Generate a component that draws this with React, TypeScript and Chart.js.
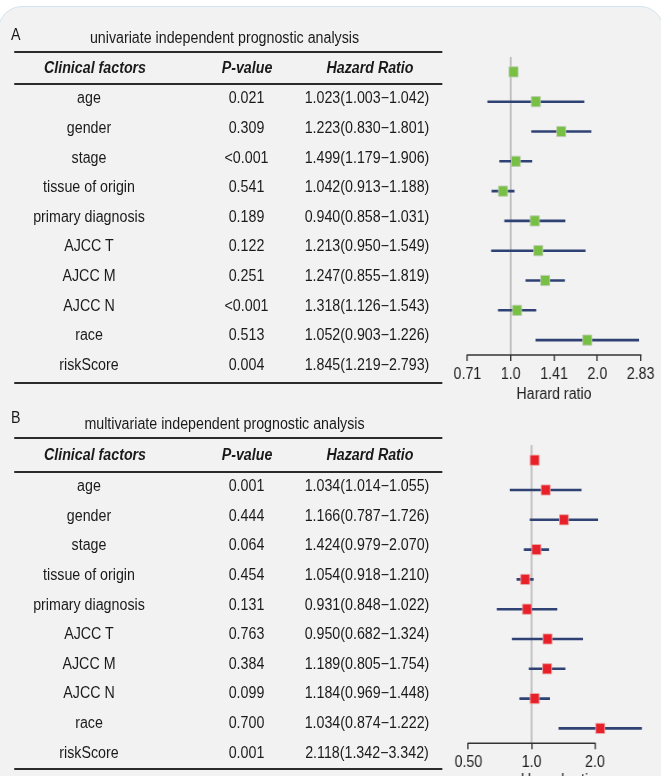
import React, { useEffect, useRef } from "react";
import { Chart, registerables } from "chart.js";

Chart.register(...registerables);

// ---------- data ----------
const factors = [
  "age",
  "gender",
  "stage",
  "tissue of origin",
  "primary diagnosis",
  "AJCC T",
  "AJCC M",
  "AJCC N",
  "race",
  "riskScore",
];

const uniP = ["0.021", "0.309", "<0.001", "0.541", "0.189", "0.122", "0.251", "<0.001", "0.513", "0.004"];
const uniHR = [1.023, 1.223, 1.499, 1.042, 0.94, 1.213, 1.247, 1.318, 1.052, 1.845];
const uniLow = [1.003, 0.83, 1.179, 0.913, 0.858, 0.95, 0.855, 1.126, 0.903, 1.219];
const uniHigh = [1.042, 1.801, 1.906, 1.188, 1.031, 1.549, 1.819, 1.543, 1.226, 2.793];

const multiP = ["0.001", "0.444", "0.064", "0.454", "0.131", "0.763", "0.384", "0.099", "0.700", "0.001"];
const multiHR = [1.034, 1.166, 1.424, 1.054, 0.931, 0.95, 1.189, 1.184, 1.034, 2.118];
const multiLow = [1.014, 0.787, 0.979, 0.918, 0.848, 0.682, 0.805, 0.969, 0.874, 1.342];
const multiHigh = [1.055, 1.726, 2.07, 1.21, 1.022, 1.324, 1.754, 1.448, 1.222, 3.342];

const uniTickValues = [0.7071, 1, 1.4142, 2, 2.8284];
const uniTickLabels = ["0.71", "1.0", "1.41", "2.0", "2.83"];
const multiTickValues = [0.5, 1, 2];
const multiTickLabels = ["0.50", "1.0", "2.0"];

const headers = ["Clinical factors", "P-value", "Hazard Ratio"];
const axisTitle = "Harard ratio";

// ---------- styling ----------
const S = 0.89; // horizontal condensation of the whole figure
const sx = (x: number) => x / S;
const FONT = '"Liberation Sans", Arial, Helvetica, sans-serif';
const TEXT = "#1a1a1a";
const NAVY = "#2f4273";
const RULE = "#2b2b2b";

const fmt = (v: number) => v.toFixed(3);

function Txt(props: {
  x: number;
  y: number;
  text: string;
  bold?: boolean;
  italic?: boolean;
  left?: boolean;
  size?: number;
}) {
  const { x, y, text, bold, italic, left, size = 16 } = props;
  const w = 600;
  return (
    <div
      style={{
        position: "absolute",
        left: left ? sx(x) : sx(x) - w / 2,
        top: y - 10,
        width: w,
        height: 20,
        lineHeight: "20px",
        fontSize: size,
        fontFamily: FONT,
        fontWeight: bold ? 700 : 400,
        fontStyle: italic ? "italic" : "normal",
        color: TEXT,
        textAlign: left ? "left" : "center",
        whiteSpace: "nowrap",
      }}
    >
      {text}
    </div>
  );
}

function Rule(props: { y: number; x0: number; x1: number }) {
  return (
    <div
      style={{
        position: "absolute",
        left: sx(props.x0),
        width: sx(props.x1) - sx(props.x0),
        top: props.y - 1,
        height: 2,
        background: RULE,
      }}
    />
  );
}

function Table(props: {
  letter: string;
  title: string;
  letterY: number;
  titleY: number;
  topRule: number;
  headerY: number;
  headerRule: number;
  rowStart: number;
  rowStep: number;
  bottomRule: number;
  pvals: string[];
  hr: number[];
  low: number[];
  high: number[];
}) {
  const p = props;
  const c1 = 89,
    c2 = 246.5,
    c3 = 367;
  return (
    <>
      <Txt x={11} y={p.letterY} text={p.letter} left />
      <Txt x={224.5} y={p.titleY} text={p.title} />
      <Rule y={p.topRule} x0={14} x1={442} />
      <Txt x={95} y={p.headerY} text={headers[0]} bold italic />
      <Txt x={247} y={p.headerY} text={headers[1]} bold italic />
      <Txt x={370} y={p.headerY} text={headers[2]} bold italic />
      <Rule y={p.headerRule} x0={14} x1={442} />
      {factors.map((f, i) => {
        const y = p.rowStart + i * p.rowStep;
        return (
          <React.Fragment key={f}>
            <Txt x={c1} y={y} text={f} />
            <Txt x={c2} y={y} text={p.pvals[i]} />
            <Txt x={c3} y={y} text={`${fmt(p.hr[i])}(${fmt(p.low[i])}\u2212${fmt(p.high[i])})`} />
          </React.Fragment>
        );
      })}
      <Rule y={p.bottomRule} x0={14} x1={442} />
    </>
  );
}

const axisLinePlugin = {
  id: "axisLine",
  afterDraw(chart: any) {
    const xs = chart.scales.x;
    const t = xs.ticks;
    if (!t || !t.length) return;
    const x0 = xs.getPixelForValue(t[0].value);
    const x1 = xs.getPixelForValue(t[t.length - 1].value);
    const y = chart.chartArea.bottom;
    const ctx = chart.ctx;
    ctx.save();
    ctx.strokeStyle = "#333";
    ctx.lineWidth = 1.5;
    ctx.beginPath();
    ctx.moveTo(x0 - 0.75, y);
    ctx.lineTo(x1 + 0.75, y);
    ctx.stroke();
    ctx.restore();
  },
};

function Forest(props: {
  refLeft: number; // reference px (left of canvas)
  top: number;
  height: number;
  areaLeft: number; // reference px
  areaRight: number; // reference px
  areaTop: number;
  areaBottom: number;
  titleCenter: number;
  xMin: number;
  xMax: number;
  hr: number[];
  low: number[];
  high: number[];
  fill: string;
  edge: string;
  tickValues: number[];
  tickLabels: string[];
}) {
  const ref = useRef<HTMLCanvasElement>(null);
  const p = props;
  const cw = Math.round(sx(661 - p.refLeft)) + 2;
  const padL = sx(p.areaLeft - p.refLeft);
  const padR = cw - sx(p.areaRight - p.refLeft);
  const padT = p.areaTop - p.top;
  const scaleH = p.top + p.height - p.areaBottom;
  const titlePadB = p.top + p.height - p.titleCenter - 9.6;
  const yMin = -0.51;
  const yMax = 9.5;

  useEffect(() => {
    const datasets: any[] = [
      {
        label: "HR",
        data: p.hr.map((v, i) => ({ x: v, y: i })),
        pointStyle: "rect",
        pointRadius: 7.2,
        pointHoverRadius: 7.2,
        backgroundColor: p.fill,
        borderColor: p.edge,
        borderWidth: 1,
        showLine: false,
      },
      ...p.low.map((l, i) => ({
        label: "CI " + factors[i],
        data: [
          { x: l, y: i },
          { x: p.high[i], y: i },
        ],
        showLine: true,
        borderColor: NAVY,
        borderWidth: 2.6,
        pointRadius: 0,
        pointHoverRadius: 0,
        fill: false,
      })),
      {
        label: "ref",
        data: [
          { x: 1, y: yMin },
          { x: 1, y: yMax },
        ],
        showLine: true,
        borderColor: "#bdbdbd",
        borderWidth: 2,
        pointRadius: 0,
        pointHoverRadius: 0,
        fill: false,
      },
    ];
    const chart = new Chart(ref.current as HTMLCanvasElement, {
      type: "scatter",
      data: { datasets },
      options: {
        animation: false,
        responsive: false,
        maintainAspectRatio: false,
        devicePixelRatio: 1,
        events: [],
        layout: { padding: { left: padL, right: padR, top: padT, bottom: 0 } },
        plugins: { legend: { display: false }, tooltip: { enabled: false } },
        scales: {
          x: {
            type: "logarithmic",
            position: "bottom",
            min: p.xMin,
            max: p.xMax,
            bounds: "data",
            afterBuildTicks: (s: any) => {
              s.ticks = p.tickValues.map((v) => ({ value: v }));
            },
            afterFit: (s: any) => {
              s.height = scaleH;
            },
            ticks: {
              autoSkip: false,
              maxRotation: 0,
              minRotation: 0,
              padding: 4,
              color: "#222",
              font: { family: FONT, size: 16 },
              callback: (_v: any, i: number) => p.tickLabels[i],
            },
            grid: {
              display: true,
              drawOnChartArea: false,
              drawTicks: true,
              tickLength: 6,
              color: "#333",
              lineWidth: 1.5,
            },
            border: { display: false },
            title: {
              display: true,
              text: axisTitle,
              color: "#222",
              font: { family: FONT, size: 16 },
              padding: { top: 0, bottom: titlePadB },
            },
          },
          y: { type: "linear", min: yMin, max: yMax, reverse: true, display: false },
        },
      } as any,
      plugins: [axisLinePlugin],
    });
    return () => chart.destroy();
  }, []);

  return (
    <canvas
      ref={ref}
      width={cw}
      height={p.height}
      style={{ position: "absolute", left: sx(p.refLeft), top: p.top, width: cw, height: p.height }}
    />
  );
}

export default function App() {
  const bLeft = 468.7;
  const bRight = bLeft + 63.3 * Math.log2(3.6 / 0.5);
  return (
    <div
      style={{
        position: "absolute",
        left: 0,
        top: 0,
        width: 661,
        height: 776,
        overflow: "hidden",
        background: "#ffffff",
      }}
    >
      <div
        style={{
          position: "absolute",
          left: -2,
          top: 6,
          width: 666,
          height: 820,
          boxSizing: "border-box",
          border: "1.5px solid #d3e4ef",
          borderRadius: 24,
          background: "#f2f2f2",
        }}
      />
      <div
        style={{
          position: "absolute",
          left: 0,
          top: 0,
          width: sx(661),
          height: 776,
          transform: `scaleX(${S})`,
          transformOrigin: "0 0",
        }}
      >
        <Table
          letter="A"
          title="univariate independent prognostic analysis"
          letterY={35}
          titleY={38}
          topRule={52}
          headerY={67.5}
          headerRule={83.5}
          rowStart={98.3}
          rowStep={29.63}
          bottomRule={383}
          pvals={uniP}
          hr={uniHR}
          low={uniLow}
          high={uniHigh}
        />
        <Table
          letter="B"
          title="multivariate independent prognostic analysis"
          letterY={418}
          titleY={423.5}
          topRule={438.3}
          headerY={455}
          headerRule={472}
          rowStart={486}
          rowStep={29.63}
          bottomRule={768.5}
          pvals={multiP}
          hr={multiHR}
          low={multiLow}
          high={multiHigh}
        />
        <Forest
          refLeft={440}
          top={40}
          height={376}
          areaLeft={467.7}
          areaRight={641}
          areaTop={56.7}
          areaBottom={355}
          titleCenter={395}
          xMin={0.7071}
          xMax={2.8284}
          hr={uniHR}
          low={uniLow}
          high={uniHigh}
          fill="#78c043"
          edge="rgba(190,205,180,0.9)"
          tickValues={uniTickValues}
          tickLabels={uniTickLabels}
        />
        <Forest
          refLeft={440}
          top={428}
          height={372}
          areaLeft={bLeft}
          areaRight={bRight}
          areaTop={445}
          areaBottom={743.3}
          titleCenter={780.7}
          xMin={0.5}
          xMax={3.6}
          hr={multiHR}
          low={multiLow}
          high={multiHigh}
          fill="#e8202a"
          edge="rgba(235,170,170,0.9)"
          tickValues={multiTickValues}
          tickLabels={multiTickLabels}
        />
      </div>
    </div>
  );
}
